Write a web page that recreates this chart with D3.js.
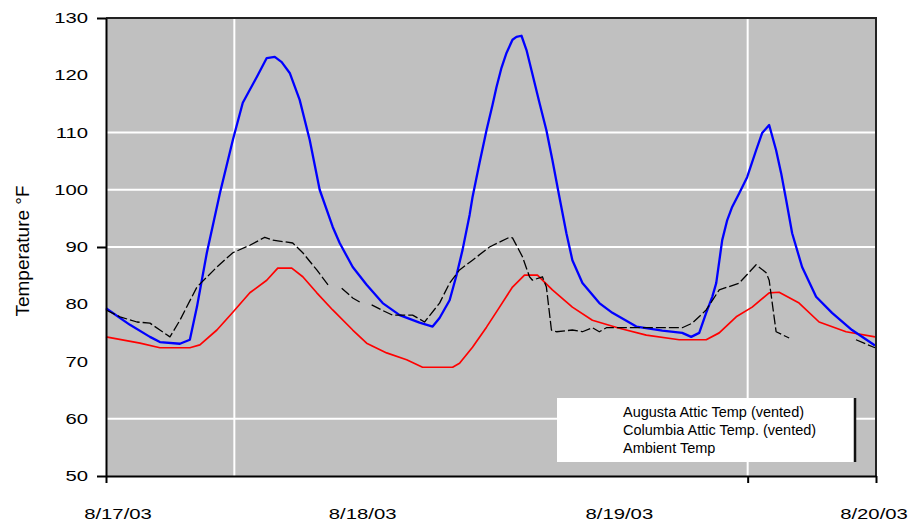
<!DOCTYPE html>
<html>
<head>
<meta charset="utf-8">
<script src="https://cdn.jsdelivr.net/npm/d3@7"></script>
<style>
  body { margin: 0; background: #ffffff; }
  svg { display: block; }
  text { font-family: Arial, "Liberation Sans", Helvetica, sans-serif; fill: #000; }
</style>
</head>
<body>
<svg id="chart" width="908" height="525"></svg>
<script>
// Hours are counted from midnight at the start of 8/17/03.
const augustaHours = [0, 2.24, 4.11, 5.04, 6.91, 7.84, 8.50, 9.43, 10.65, 11.86,
  12.79, 14.10, 15.03, 15.78, 16.43, 17.18, 18.11, 19.05, 19.98, 21.20,
  21.85, 23.07, 24.37, 25.87, 27.46, 29.32, 30.54, 31.19, 32.13, 32.78,
  33.34, 34.00, 34.27, 34.93, 35.58, 36.14, 36.51, 36.98, 37.45, 38.01,
  38.38, 38.85, 39.32, 39.78, 40.53, 41.18, 41.74, 42.40, 43.05, 43.61,
  44.55, 46.13, 47.35, 49.59, 52.02, 53.88, 54.72, 55.47, 56.12, 56.69,
  57.06, 57.62, 58.09, 58.55, 59.21, 59.95, 60.79, 61.35, 62.01, 62.66,
  63.13, 63.60, 64.16, 65.09, 66.40, 67.89, 69.76, 71.91];
const augustaTemps = [79.3, 76.4, 74.3, 73.4, 73.1, 73.8, 79.5, 89.0, 99.4, 108.7,
  115.2, 119.7, 123.0, 123.2, 122.3, 120.4, 115.7, 108.7, 100.0, 93.5,
  90.7, 86.5, 83.4, 80.2, 78.1, 76.8, 76.1, 77.6, 80.7, 85.1,
  89.5, 95.6, 98.7, 104.7, 110.4, 114.8, 117.9, 121.3, 123.9, 126.2,
  126.7, 126.9, 124.4, 120.9, 115.2, 110.4, 105.2, 98.7, 92.4, 87.7,
  83.7, 80.2, 78.5, 76.1, 75.4, 75.0, 74.3, 75.0, 78.5, 81.3,
  83.7, 91.2, 94.7, 97.0, 99.4, 102.2, 106.9, 109.9, 111.3, 106.9,
  102.9, 98.2, 92.4, 86.5, 81.3, 78.5, 75.5, 72.8];

const columbiaHours = [0, 1.31, 2.89, 4.11, 5.04, 5.98, 6.91, 8.50, 10.37, 11.86,
  13.45, 14.85, 15.60, 17.46, 18.40, 19.71, 20.92, 21.5, 22.04, 23.07,
  23.72, 24.3, 24.84, 25.77, 26.80, 28.67, 29.79, 31.19, 32.13, 33.06,
  34.27, 35.86, 37.73, 38.01, 38.94, 39.60, 39.88, 40.81, 41.18, 41.65,
  42.12, 43.61, 44.55, 45.48, 46.13, 46.79, 53.88, 54.82, 56.12, 57.34,
  59.21, 60.79, 61.73, 62.01, 62.66, 63.88, 67.0, 70.13, 71.91];
// null marks hours with no logged reading
const columbiaTemps = [79.0, 77.8, 76.9, 76.7, 75.5, 74.3, 77.2, 83.0, 86.5, 89.0,
  90.3, 91.7, 91.2, 90.7, 89.0, 86.0, 83.0, null, 82.8, 81.1,
  80.4, null, 79.9, 79.0, 78.1, 78.1, 76.9, 80.2, 83.7, 86.0,
  87.7, 90.0, 91.7, 91.6, 88.3, 84.8, 84.2, 84.8, 83.0, 75.5,
  75.2, 75.5, 75.2, 75.9, 75.2, 75.9, 75.9, 76.7, 79.0, 82.5,
  83.7, 86.9, 85.5, 84.2, 75.2, 74.1, null, 73.8, 72.4];

const ambientHours = [0, 3.18, 5.04, 7.84, 8.78, 10.37, 11.86, 13.45, 15.03, 16.06,
  17.37, 18.40, 19.71, 21.20, 23.07, 24.37, 26.24, 28.11, 29.60, 32.41,
  33.06, 34.27, 35.58, 36.80, 38.01, 39.13, 40.34, 41.74, 43.61, 45.48,
  48.00, 50.52, 53.60, 56.12, 57.34, 58.93, 60.42, 62.01, 62.94, 64.81,
  66.68, 69.20, 71.91];
const ambientTemps = [74.3, 73.2, 72.4, 72.4, 72.9, 75.5, 78.6, 82.0, 84.2, 86.3,
  86.3, 84.8, 82.0, 79.0, 75.5, 73.2, 71.5, 70.3, 69.0, 69.0,
  69.7, 72.5, 76.0, 79.5, 83.0, 85.1, 85.1, 82.5, 79.5, 77.2,
  75.8, 74.6, 73.8, 73.8, 75.0, 77.8, 79.5, 82.0, 82.1, 80.2,
  76.9, 75.2, 74.3];

const yLabels = [50, 60, 70, 80, 90, 100, 110, 120, 130];
const yGridValues = [60, 90, 100, 110];
const yTickMarks = [50, 90, 130];
const xLabels = ["8/17/03", "8/18/03", "8/19/03", "8/20/03"];
const xLabelHours = [0, 24, 48, 72];
const xGridHours = [12, 60];
const xTickHours = [0, 60, 72];
const legendLabels = ["Augusta Attic Temp (vented)", "Columbia Attic Temp. (vented)", "Ambient Temp"];

const startDate = new Date(2003, 7, 17);
const toDate = h => new Date(startDate.getTime() + h * 3600e3);

const svg = d3.select("#chart");
const plot = { left: 106, right: 876, top: 18, bottom: 476 };

const x = d3.scaleTime()
  .domain([toDate(0), toDate(72)])
  .range([plot.left, plot.right]);
const y = d3.scaleLinear()
  .domain([50, 130])
  .range([plot.bottom, plot.top]);

// plot background
svg.append("rect")
  .attr("x", plot.left).attr("y", plot.top)
  .attr("width", plot.right - plot.left).attr("height", plot.bottom - plot.top)
  .attr("fill", "#c0c0c0");

// gridlines
svg.append("g").selectAll("line").data(yGridValues).join("line")
  .attr("x1", plot.left).attr("x2", plot.right)
  .attr("y1", d => y(d)).attr("y2", d => y(d))
  .attr("stroke", "#ffffff").attr("stroke-width", 2);
svg.append("g").selectAll("line").data(xGridHours).join("line")
  .attr("x1", d => x(toDate(d))).attr("x2", d => x(toDate(d)))
  .attr("y1", plot.top).attr("y2", plot.bottom)
  .attr("stroke", "#ffffff").attr("stroke-width", 2);

// legend box
const legend = svg.append("g");
legend.append("rect")
  .attr("x", 557).attr("y", 398).attr("width", 298).attr("height", 64)
  .attr("fill", "#ffffff");
legend.append("line")
  .attr("x1", 855).attr("x2", 855).attr("y1", 398).attr("y2", 462)
  .attr("stroke", "#111").attr("stroke-width", 2.5);
legend.selectAll("text").data(legendLabels).join("text")
  .attr("x", 623).attr("y", (d, i) => 417 + i * 18)
  .attr("font-size", 14.5)
  .text(d => d);

// series
const makeLine = (hours) => d3.line()
  .defined(d => d != null)
  .x((d, i) => x(toDate(hours[i])))
  .y(d => y(d))
  .curve(d3.curveLinear);

svg.append("path")
  .datum(ambientTemps)
  .attr("d", makeLine(ambientHours))
  .attr("fill", "none").attr("stroke", "#ff0000").attr("stroke-width", 1.7)
  .attr("stroke-linejoin", "round");

svg.append("path")
  .datum(augustaTemps)
  .attr("d", makeLine(augustaHours))
  .attr("fill", "none").attr("stroke", "#0000ff").attr("stroke-width", 2.3)
  .attr("stroke-linejoin", "round");

svg.append("path")
  .datum(columbiaTemps)
  .attr("d", makeLine(columbiaHours))
  .attr("fill", "none").attr("stroke", "#000000").attr("stroke-width", 1.3)
  .attr("stroke-dasharray", "10,3")
  .attr("stroke-linejoin", "round");

// frame: top and right edges
svg.append("path")
  .attr("d", `M${plot.left},${plot.top}H${plot.right}V${plot.bottom}`)
  .attr("fill", "none").attr("stroke", "#222").attr("stroke-width", 2);

// axes
const yAxis = d3.axisLeft(y).tickValues(yTickMarks).tickSize(9).tickFormat("").tickSizeOuter(0);
svg.append("g").attr("transform", `translate(${plot.left},0)`).call(yAxis)
  .call(g => g.selectAll("line,path").attr("stroke", "#000").attr("stroke-width", 2));

const xAxis = d3.axisBottom(x).tickValues(xTickHours.map(toDate)).tickSize(7).tickFormat("").tickSizeOuter(0);
svg.append("g").attr("transform", `translate(0,${plot.bottom})`).call(xAxis)
  .call(g => g.selectAll("line,path").attr("stroke", "#000").attr("stroke-width", 2));

// horizontally widened tick labels
function wideText(parent, px, py, str, anchor) {
  parent.append("g").attr("transform", `translate(${px},${py})`)
    .append("text")
    .attr("transform", "scale(1.45,1)")
    .attr("text-anchor", anchor)
    .attr("font-size", 14)
    .text(str);
}
const yl = svg.append("g");
yLabels.forEach(v => wideText(yl, 88, y(v) + 5, String(v), "end"));

const xl = svg.append("g");
const xNudge = [12, 0, 0, -2];
xLabels.forEach((s, i) => wideText(xl, x(toDate(xLabelHours[i])) + xNudge[i], 519, s, "middle"));

// axis title
svg.append("text")
  .attr("transform", `translate(29,251) rotate(-90)`)
  .attr("text-anchor", "middle")
  .attr("font-size", 19)
  .text("Temperature °F");
</script>
</body>
</html>
